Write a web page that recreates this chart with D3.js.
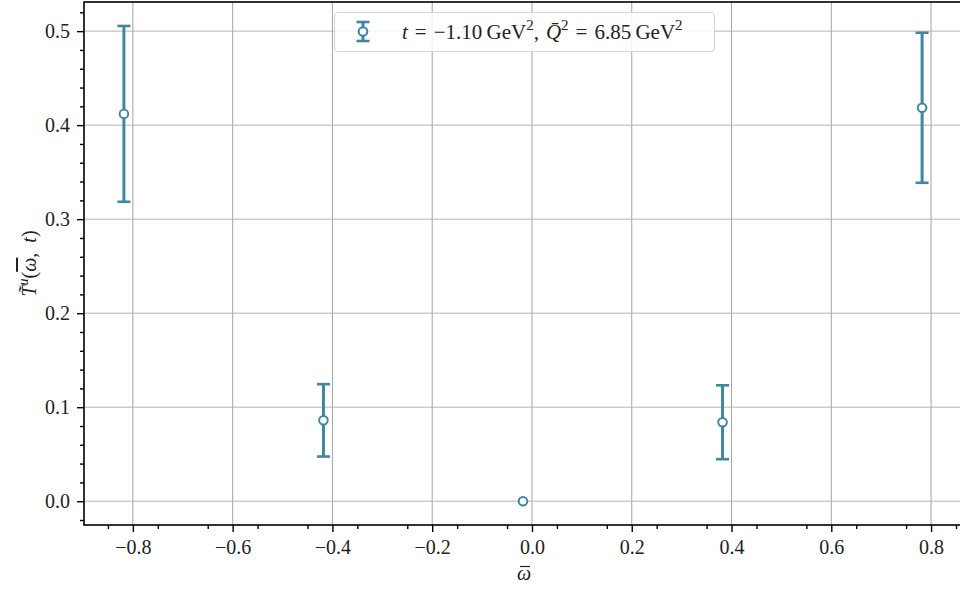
<!DOCTYPE html>
<html>
<head>
<meta charset="utf-8">
<script src="https://cdn.jsdelivr.net/npm/d3@7"></script>
<style>
  body { margin: 0; background: #fff; }
  svg text { font-family: "Liberation Serif", serif; fill: #222; }
</style>
</head>
<body>
<div id="chart"></div>
<script>
// Plot constants
const WIDTH = 960;
const HEIGHT = 590;
const COLOR = "#3f86a1";
const FONT = "Liberation Serif";

// Data
const omega = [-0.818, -0.418, -0.018, 0.382, 0.782];
const tValues = [0.412, 0.086, 0.0, 0.084, 0.4185];
const tErrors = [0.0935, 0.0385, 0.0, 0.0393, 0.0798];
const xTicks = [-0.8, -0.6, -0.4, -0.2, 0.0, 0.2, 0.4, 0.6, 0.8];
const yTicks = [0.0, 0.1, 0.2, 0.3, 0.4, 0.5];

const margin = {left: 84, right: -4, top: 2, bottom: 65};
const innerW = WIDTH - margin.left - margin.right;
const innerH = HEIGHT - margin.top - margin.bottom;

const svg = d3
  .select("#chart")
  .append("svg")
  .attr("width", WIDTH)
  .attr("height", HEIGHT);

const g = svg.append("g").attr("transform", `translate(${margin.left},${margin.top})`);

// scales with matplotlib-like 5% margins
const x = d3.scaleLinear().domain([-0.898, 0.866]).range([0, innerW]);
const y = d3.scaleLinear().domain([-0.0253, 0.531]).range([innerH, 0]);

// grid
g.append("g")
  .selectAll("line")
  .data(xTicks)
  .join("line")
  .attr("x1", d => x(d))
  .attr("x2", d => x(d))
  .attr("y1", 0)
  .attr("y2", innerH)
  .attr("stroke", "#a4a4a4")
  .attr("stroke-width", 1);

g.append("g")
  .selectAll("line")
  .data(yTicks)
  .join("line")
  .attr("y1", d => y(d))
  .attr("y2", d => y(d))
  .attr("x1", 0)
  .attr("x2", innerW)
  .attr("stroke", "#b4b4b4")
  .attr("stroke-width", 1);

// axes
g.append("g")
  .attr("transform", `translate(0,${innerH})`)
  .call(d3.axisBottom(x).tickValues(xTicks).tickSize(7).tickPadding(8)
    .tickFormat(d => d3.format(".1f")(d).replace("-", "\u2212")));

const xMinor = d3.range(-0.85, 0.86, 0.05).filter(v => Math.abs(Math.round(v * 10) - v * 10) > 0.01);
g.append("g")
  .attr("transform", `translate(0,${innerH})`)
  .call(d3.axisBottom(x).tickValues(xMinor).tickSize(4).tickFormat(""));

g.append("g")
  .call(d3.axisLeft(y).tickValues(yTicks).tickSize(7).tickPadding(7)
    .tickFormat(d3.format(".1f")));

const yMinor = d3.range(-0.02, 0.531, 0.02).filter(v => Math.abs(Math.round(v * 10) - v * 10) > 0.01);
g.append("g")
  .call(d3.axisLeft(y).tickValues(yMinor).tickSize(4).tickFormat(""));

g.selectAll("g").attr("font-family", FONT);
g.selectAll(".domain").remove();
g.selectAll(".tick line").attr("stroke", "#000").attr("stroke-width", 1.4);
g.selectAll(".tick text")
  .attr("font-size", "20px")
  .style("font-family", FONT)
  .attr("fill", "#222");

// spines
g.append("rect")
  .attr("x", 0)
  .attr("y", 0)
  .attr("width", innerW)
  .attr("height", innerH)
  .attr("fill", "none")
  .attr("stroke", "#000")
  .attr("stroke-width", 1.6);

// error bars
const pts = omega.map((w, i) => ({w, v: tValues[i], e: tErrors[i]}));
const eb = g.append("g").selectAll("g").data(pts).join("g");
eb.filter(d => d.e > 0).append("line")
  .attr("x1", d => x(d.w)).attr("x2", d => x(d.w))
  .attr("y1", d => y(d.v - d.e)).attr("y2", d => y(d.v + d.e))
  .attr("stroke", COLOR).attr("stroke-width", 3);
[-1, 1].forEach(s => {
  eb.filter(d => d.e > 0).append("line")
    .attr("x1", d => x(d.w) - 6.5).attr("x2", d => x(d.w) + 6.5)
    .attr("y1", d => y(d.v + s * d.e)).attr("y2", d => y(d.v + s * d.e))
    .attr("stroke", COLOR).attr("stroke-width", 2.6);
});
eb.append("circle")
  .attr("cx", d => x(d.w))
  .attr("cy", d => y(d.v))
  .attr("r", 4.3)
  .attr("fill", "#fff")
  .attr("stroke", COLOR)
  .attr("stroke-width", 2);

// legend
const leg = svg.append("g");
leg.append("rect")
  .attr("x", 334.5).attr("y", 12.5)
  .attr("width", 380).attr("height", 39)
  .attr("rx", 4)
  .attr("fill", "rgba(255,255,255,0.85)")
  .attr("stroke", "#d6d6d6")
  .attr("stroke-width", 1.2);
leg.append("line").attr("x1", 363).attr("x2", 363).attr("y1", 22).attr("y2", 41)
  .attr("stroke", COLOR).attr("stroke-width", 3);
[22, 41].forEach(yy => leg.append("line")
  .attr("x1", 356.5).attr("x2", 369.5).attr("y1", yy).attr("y2", yy)
  .attr("stroke", COLOR).attr("stroke-width", 2.6));
leg.append("circle").attr("cx", 363).attr("cy", 31.5).attr("r", 4.3)
  .attr("fill", "#fff").attr("stroke", COLOR).attr("stroke-width", 2);

const lt = leg.append("text").attr("x", 402).attr("y", 39).attr("font-size", "21px");
lt.append("tspan").attr("font-style", "italic").text("t");
lt.append("tspan").text("\u2004=\u2004\u22121.10\u2009GeV");
lt.append("tspan").attr("font-size", "15px").attr("dy", -9).text("2");
lt.append("tspan").attr("dy", 9).text(",\u2004");
lt.append("tspan").attr("font-style", "italic").text("Q\u0304");
lt.append("tspan").attr("font-size", "15px").attr("dy", -9).text("2");
lt.append("tspan").attr("dy", 9).text("\u2004=\u20046.85\u2009GeV");
lt.append("tspan").attr("font-size", "15px").attr("dy", -9).text("2");

// x label: omega with a bar line above it
const xLabelX = margin.left + x(0) - 8;
svg.append("text")
  .attr("x", xLabelX)
  .attr("y", 580)
  .attr("text-anchor", "middle")
  .attr("font-size", "20px")
  .attr("font-style", "italic")
  .text("\u03C9");
svg.append("line")
  .attr("x1", xLabelX - 4).attr("x2", xLabelX + 6)
  .attr("y1", 566.5).attr("y2", 566.5)
  .attr("stroke", "#222").attr("stroke-width", 1.2);

// y label
const yl = svg.append("text")
  .attr("transform", `translate(36,${margin.top + innerH / 2}) rotate(-90)`)
  .attr("text-anchor", "middle")
  .attr("font-size", "20px");
yl.append("tspan").attr("font-style", "italic").text("T\u0303");
yl.append("tspan").attr("font-style", "italic").attr("font-size", "14px").attr("dy", -8).text("u");
yl.append("tspan").attr("dy", 8).text("(");
yl.append("tspan").attr("font-style", "italic").style("text-decoration", "overline").text("\u03C9");
yl.append("tspan").text(",\u2002");
yl.append("tspan").attr("font-style", "italic").text("t");
yl.append("tspan").text(")");
</script>
</body>
</html>
